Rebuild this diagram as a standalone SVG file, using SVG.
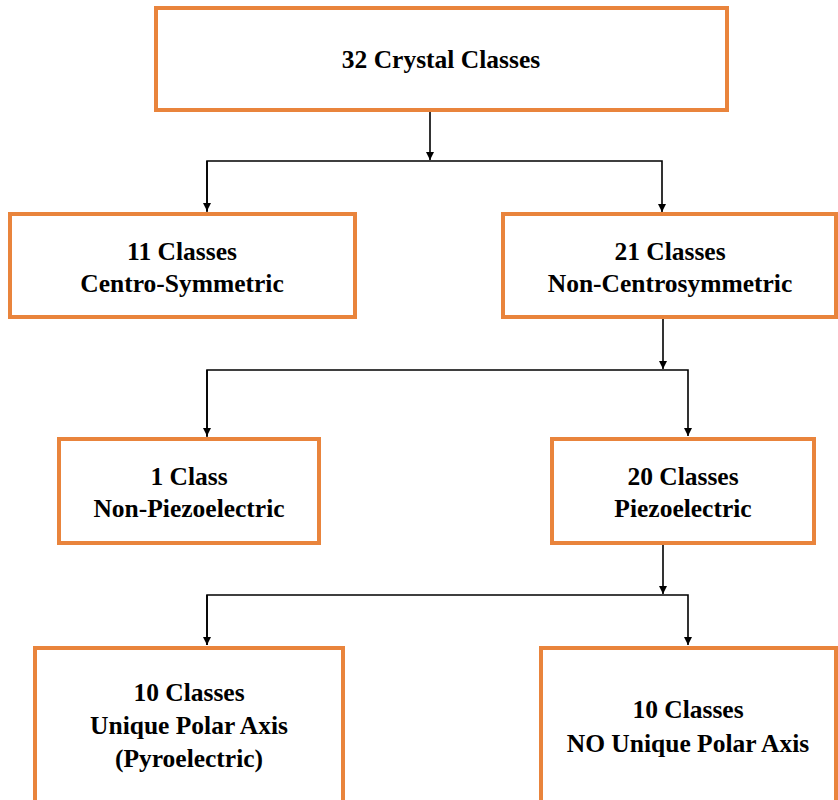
<svg xmlns="http://www.w3.org/2000/svg" width="838" height="800" viewBox="0 0 838 800">
<style>
.box{fill:#fff;stroke:#E9843C;stroke-width:4}
.t{font-family:"Liberation Serif","Times New Roman",serif;font-weight:bold;font-size:25.5px;fill:#000;text-anchor:middle}
.c{fill:none;stroke:#000;stroke-width:1.6}
</style>
<defs>
<marker id="ah" viewBox="0 0 10 10" refX="10" refY="5" markerWidth="8" markerHeight="8" markerUnits="userSpaceOnUse" orient="auto">
<path d="M0,0 L10,5 L0,10 z" fill="#000"/>
</marker>
</defs>
<rect width="838" height="800" fill="#fff"/>
<g id="connectors">
<path class="c" d="M430,111 V160" marker-end="url(#ah)"/>
<path class="c" d="M207,212 V161 H662 V212" marker-end="url(#ah)"/>
<path class="c" d="M207,161 V211" marker-end="url(#ah)"/>
<path class="c" d="M663,319 V369" marker-end="url(#ah)"/>
<path class="c" d="M207,437 V370 H688 V436" marker-end="url(#ah)"/>
<path class="c" d="M207,370 V436" marker-end="url(#ah)"/>
<path class="c" d="M663,545 V594" marker-end="url(#ah)"/>
<path class="c" d="M207,645 V595 H688 V645" marker-end="url(#ah)"/>
<path class="c" d="M207,595 V645" marker-end="url(#ah)"/>
</g>
<g id="n-32">
<rect class="box" x="156" y="8" width="571" height="102"/>
<text class="t" x="441" y="68">32 Crystal Classes</text>
</g>
<g id="n-11">
<rect class="box" x="10" y="214" width="345" height="103"/>
<text class="t" x="182" y="260">11 Classes</text>
<text class="t" x="182" y="292">Centro-Symmetric</text>
</g>
<g id="n-21">
<rect class="box" x="503" y="214" width="333" height="103"/>
<text class="t" x="670" y="260">21 Classes</text>
<text class="t" x="670" y="292">Non-Centrosymmetric</text>
</g>
<g id="n-1">
<rect class="box" x="59" y="439" width="260" height="104"/>
<text class="t" x="189" y="485">1 Class</text>
<text class="t" x="189" y="517">Non-Piezoelectric</text>
</g>
<g id="n-20">
<rect class="box" x="552" y="439" width="262" height="104"/>
<text class="t" x="683" y="485">20 Classes</text>
<text class="t" x="683" y="517">Piezoelectric</text>
</g>
<g id="n-10a">
<rect class="box" x="35" y="648" width="308" height="170"/>
<text class="t" x="189" y="701">10 Classes</text>
<text class="t" x="189" y="734">Unique Polar Axis</text>
<text class="t" x="189" y="767">(Pyroelectric)</text>
</g>
<g id="n-10b">
<rect class="box" x="541" y="648" width="295" height="170"/>
<text class="t" x="688" y="718">10 Classes</text>
<text class="t" x="688" y="752">NO Unique Polar Axis</text>
</g>
</svg>
